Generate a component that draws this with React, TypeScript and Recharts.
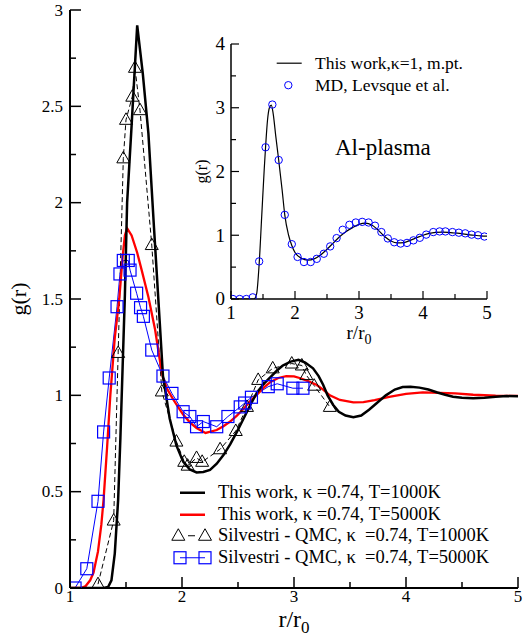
import React from 'react';
import { ComposedChart, Line, XAxis, YAxis, Legend, Label } from 'recharts';

if (typeof document !== 'undefined') {
  document.body.style.margin = '0';
}

const FONT = '"Liberation Serif", "Times New Roman", Times, serif';

// ---------- main plot data ----------
// This work, kappa = 0.74, T = 1000K (black)
const work1000R = [1.0, 1.30, 1.34, 1.37, 1.40, 1.43, 1.45, 1.47, 1.49, 1.51, 1.53, 1.55, 1.60, 1.65, 1.70, 1.75, 1.80, 1.83, 1.89, 1.95, 2.01, 2.07, 2.13, 2.19, 2.25, 2.31, 2.37, 2.43, 2.49, 2.55, 2.61, 2.67, 2.73, 2.79, 2.85, 2.90, 2.97, 3.04, 3.10, 3.17, 3.22, 3.26, 3.30, 3.35, 3.40, 3.46, 3.53, 3.60, 3.67, 3.74, 3.82, 3.90, 3.97, 4.04, 4.12, 4.20, 4.28, 4.35, 4.42, 4.50, 4.60, 4.70, 4.80, 4.90, 5.00];
const work1000G = [0, 0, 0.005, 0.04, 0.18, 0.46, 0.78, 1.15, 1.52, 2.0, 2.2, 2.4, 2.92, 2.67, 2.36, 1.87, 1.39, 1.10, 0.88, 0.74, 0.656, 0.615, 0.60, 0.602, 0.613, 0.645, 0.69, 0.745, 0.81, 0.88, 0.95, 1.015, 1.06, 1.095, 1.13, 1.155, 1.175, 1.184, 1.17, 1.14, 1.10, 1.055, 1.0, 0.95, 0.915, 0.895, 0.886, 0.895, 0.925, 0.96, 1.0, 1.03, 1.043, 1.045, 1.04, 1.03, 1.015, 1.003, 0.993, 0.988, 0.985, 0.988, 0.993, 0.996, 0.995];

// This work, kappa = 0.74, T = 5000K (red)
const work5000R = [1.0, 1.10, 1.14, 1.18, 1.21, 1.25, 1.28, 1.30, 1.33, 1.36, 1.40, 1.44, 1.47, 1.49, 1.51, 1.55, 1.60, 1.64, 1.70, 1.76, 1.80, 1.83, 1.87, 1.92, 1.97, 2.01, 2.07, 2.13, 2.21, 2.31, 2.37, 2.43, 2.49, 2.55, 2.61, 2.68, 2.73, 2.79, 2.86, 2.93, 3.00, 3.05, 3.12, 3.20, 3.26, 3.32, 3.41, 3.53, 3.62, 3.72, 3.85, 4.00, 4.15, 4.30, 4.44, 4.60, 4.80, 5.00];
const work5000G = [0, 0, 0.01, 0.04, 0.08, 0.19, 0.33, 0.46, 0.72, 1.0, 1.3, 1.5, 1.72, 1.83, 1.867, 1.83, 1.74, 1.65, 1.51, 1.34, 1.19, 1.09, 1.03, 0.98, 0.935, 0.90, 0.86, 0.83, 0.805, 0.82, 0.84, 0.864, 0.895, 0.93, 0.97, 1.01, 1.04, 1.07, 1.09, 1.10, 1.098, 1.09, 1.075, 1.055, 1.03, 1.0, 0.976, 0.963, 0.965, 0.975, 0.992, 1.008, 1.015, 1.013, 1.01, 1.003, 0.998, 0.997];

// Silvestri - QMC, kappa = 0.74, T = 1000K (triangles)
const qmc1000R = [1.25, 1.39, 1.43, 1.476, 1.50, 1.556, 1.58, 1.625, 1.73, 1.82, 1.95, 2.02, 2.05, 2.13, 2.18, 2.34, 2.48, 2.58, 2.68, 2.81, 2.98, 3.07, 3.11, 3.18, 3.32];
const qmc1000G = [0.02, 0.35, 1.22, 2.23, 2.43, 2.55, 2.70, 2.48, 1.78, 1.02, 0.76, 0.655, 0.635, 0.675, 0.655, 0.72, 0.815, 0.94, 1.08, 1.14, 1.165, 1.155, 1.105, 1.05, 0.94];

// Silvestri - QMC, kappa = 0.74, T = 5000K (squares)
const qmc5000R = [1.045, 1.15, 1.25, 1.30, 1.35, 1.42, 1.446, 1.476, 1.52, 1.536, 1.595, 1.63, 1.655, 1.73, 1.83, 1.91, 2.01, 2.07, 2.13, 2.19, 2.31, 2.41, 2.52, 2.56, 2.62, 2.77, 2.85, 2.99, 3.08];
const qmc5000G = [0.0, 0.10, 0.45, 0.81, 1.09, 1.46, 1.63, 1.70, 1.70, 1.65, 1.53, 1.455, 1.41, 1.235, 1.10, 1.01, 0.915, 0.89, 0.837, 0.864, 0.837, 0.89, 0.94, 0.96, 0.99, 1.045, 1.06, 1.037, 1.037];

// ---------- inset data ----------
const insetLineR = [1.0, 1.36, 1.40, 1.44, 1.48, 1.52, 1.54, 1.57, 1.60, 1.63, 1.66, 1.70, 1.745, 1.80, 1.84, 1.90, 1.95, 2.0, 2.1, 2.2, 2.3, 2.4, 2.5, 2.6, 2.7, 2.8, 2.9, 3.0, 3.1, 3.2, 3.3, 3.4, 3.5, 3.6, 3.7, 3.8, 3.9, 4.0, 4.1, 4.2, 4.3, 4.4, 4.5, 4.6, 4.7, 4.8, 4.9, 5.0];
const insetLineG = [0, 0, 0.08, 0.55, 1.3, 2.05, 2.38, 2.8, 3.0, 3.04, 2.9, 2.55, 2.18, 1.7, 1.32, 1.0, 0.84, 0.73, 0.64, 0.61, 0.63, 0.69, 0.78, 0.88, 0.98, 1.06, 1.12, 1.17, 1.19, 1.16, 1.08, 0.98, 0.91, 0.88, 0.885, 0.92, 0.96, 1.0, 1.03, 1.045, 1.05, 1.045, 1.035, 1.025, 1.01, 1.0, 0.99, 0.985];

const mdR = [1.03, 1.135, 1.24, 1.34, 1.44, 1.54, 1.646, 1.745, 1.84, 1.95, 2.04, 2.14, 2.245, 2.34, 2.45, 2.55, 2.65, 2.745, 2.85, 2.95, 3.05, 3.15, 3.25, 3.35, 3.45, 3.55, 3.65, 3.75, 3.85, 3.95, 4.05, 4.16, 4.26, 4.35, 4.46, 4.56, 4.66, 4.76, 4.86, 4.96];
const mdG = [0, 0, 0, 0.026, 0.59, 2.38, 3.05, 2.18, 1.32, 0.86, 0.66, 0.58, 0.58, 0.63, 0.71, 0.825, 0.955, 1.086, 1.164, 1.20, 1.21, 1.20, 1.15, 1.05, 0.95, 0.89, 0.87, 0.88, 0.92, 0.96, 1.01, 1.05, 1.06, 1.06, 1.05, 1.04, 1.03, 1.01, 1.0, 0.98];

// ---------- ticks / labels ----------
const mainXTicks = [1, 1.5, 2, 2.5, 3, 3.5, 4, 4.5, 5];
const mainYTicks = [0, 0.25, 0.5, 0.75, 1, 1.25, 1.5, 1.75, 2, 2.25, 2.5, 2.75, 3];
const insetXTicks = [1, 1.5, 2, 2.5, 3, 3.5, 4, 4.5, 5];
const insetYTicks = [0, 0.5, 1, 1.5, 2, 2.5, 3, 3.5, 4];

const legendMain = [
  'This work, \u03BA =0.74, T=1000K',
  'This work, \u03BA =0.74, T=5000K',
  'Silvestri - QMC, \u03BA  =0.74, T=1000K',
  'Silvestri - QMC, \u03BA  =0.74, T=5000K',
];
const legendInset = ['This work,\u03BA=1, m.pt.', 'MD, Levsque et al.'];

const zip = (r: number[], g: number[]) => r.map((v, i) => ({ r: v, g: g[i] }));
const black = zip(work1000R, work1000G);
const red = zip(work5000R, work5000G);
const tri = zip(qmc1000R, qmc1000G);
const sq = zip(qmc5000R, qmc5000G);
const insetLine = zip(insetLineR, insetLineG);
const md = zip(mdR, mdG);

// ---------- tick renderers ----------
const isMajorX = (v: number) => Math.abs(v - Math.round(v)) < 1e-9;
const isMajorY = (v: number) => Math.abs(v * 2 - Math.round(v * 2)) < 1e-9;
const isInt = (v: number) => Math.abs(v - Math.round(v)) < 1e-9;

const makeTick = (side: 'bottom' | 'top' | 'left' | 'right', majorFn: (v: number) => boolean, majLen: number, minLen: number, showLabel: boolean, fontSize: number, sw: number, labelOffset: number) =>
  (props: any) => {
    const { x, y, payload } = props;
    const v = payload.value;
    const major = majorFn(v);
    const len = major ? majLen : minLen;
    let line;
    if (side === 'bottom') line = <line x1={x} x2={x} y1={y} y2={y - len} stroke="#000" strokeWidth={sw} />;
    else if (side === 'top') line = <line x1={x} x2={x} y1={y} y2={y + len} stroke="#000" strokeWidth={sw} />;
    else if (side === 'left') line = <line x1={x} x2={x + len} y1={y} y2={y} stroke="#000" strokeWidth={sw} />;
    else line = <line x1={x} x2={x - len} y1={y} y2={y} stroke="#000" strokeWidth={sw} />;
    let label = null;
    if (showLabel && major) {
      if (side === 'bottom') label = <text x={x} y={y + labelOffset} textAnchor="middle" fontFamily={FONT} fontSize={fontSize} fill="#000">{String(v)}</text>;
      if (side === 'left') label = <text x={x - labelOffset} y={y + fontSize * 0.33} textAnchor="end" fontFamily={FONT} fontSize={fontSize} fill="#000">{String(v)}</text>;
    }
    return <g>{line}{label}</g>;
  };

const MainBottomTick = makeTick('bottom', isMajorX, 11, 6, true, 17, 1.5, 14);
const MainTopTick = makeTick('top', isMajorX, 11, 6, false, 17, 1.5, 0);
const MainLeftTick = makeTick('left', isMajorY, 11, 6, true, 17, 1.5, 7);
const MainRightTick = makeTick('right', isMajorY, 11, 6, false, 17, 1.5, 0);

const InsetBottomTick = makeTick('bottom', isInt, 8, 5, true, 19, 1.2, 20);
const InsetTopTick = makeTick('top', isInt, 8, 5, false, 19, 1.2, 0);
const InsetLeftTick = makeTick('left', isInt, 8, 5, true, 19, 1.2, 6);
const InsetRightTick = makeTick('right', isInt, 8, 5, false, 19, 1.2, 0);

// ---------- marker shapes ----------
const TriangleDot = (props: any) => {
  const { cx, cy } = props;
  if (cx == null || cy == null) return <g />;
  return <polygon points={`${cx},${cy - 7} ${cx - 6.5},${cy + 4.5} ${cx + 6.5},${cy + 4.5}`} fill="none" stroke="#000" strokeWidth={1} />;
};
const SquareDot = (props: any) => {
  const { cx, cy } = props;
  if (cx == null || cy == null) return <g />;
  return <rect x={cx - 6} y={cy - 6} width={12} height={12} fill="none" stroke="#0000ff" strokeWidth={1.2} />;
};
const CircleDot = (props: any) => {
  const { cx, cy } = props;
  if (cx == null || cy == null) return <g />;
  return <circle cx={cx} cy={cy} r={3.7} fill="none" stroke="#0000ff" strokeWidth={1} />;
};

// ---------- legends ----------
const MainLegend = () => {
  const rowH = 21.5;
  const icons = [
    <line x1={9} x2={34} y1={rowH / 2} y2={rowH / 2} stroke="#000" strokeWidth={2.5} />,
    <line x1={9} x2={34} y1={rowH / 2} y2={rowH / 2} stroke="#ff0000" strokeWidth={2.5} />,
    <g>
      <line x1={17} x2={24} y1={rowH / 2} y2={rowH / 2} stroke="#000" strokeWidth={1} />
      <polygon points={`7.3,${rowH / 2 - 7} 0.8,${rowH / 2 + 4.5} 13.8,${rowH / 2 + 4.5}`} fill="none" stroke="#000" />
      <polygon points={`34,${rowH / 2 - 7} 27.5,${rowH / 2 + 4.5} 40.5,${rowH / 2 + 4.5}`} fill="none" stroke="#000" />
    </g>,
    <g>
      <line x1={9} x2={34} y1={rowH / 2} y2={rowH / 2} stroke="#0000ff" strokeWidth={1} />
      <rect x={3} y={rowH / 2 - 6} width={12} height={12} fill="none" stroke="#0000ff" strokeWidth={1.2} />
      <rect x={28} y={rowH / 2 - 6} width={12} height={12} fill="none" stroke="#0000ff" strokeWidth={1.2} />
    </g>,
  ];
  return (
    <div style={{ fontFamily: FONT, fontSize: 18.5, color: '#000' }}>
      {legendMain.map((t, i) => (
        <div key={i} style={{ display: 'flex', alignItems: 'center', height: rowH, whiteSpace: 'pre' }}>
          <svg width={47} height={rowH} style={{ display: 'block', overflow: 'visible', flex: 'none' }}>{icons[i]}</svg>
          <span>{t}</span>
        </div>
      ))}
    </div>
  );
};

const InsetLegend = () => {
  const rowH = 22.4;
  const icons = [
    <line x1={6.7} x2={31.7} y1={rowH / 2} y2={rowH / 2} stroke="#000" strokeWidth={1.2} />,
    <circle cx={18.3} cy={rowH / 2} r={3.7} fill="none" stroke="#0000ff" strokeWidth={1} />,
  ];
  return (
    <div style={{ fontFamily: FONT, fontSize: 17.5, color: '#000' }}>
      {legendInset.map((t, i) => (
        <div key={i} style={{ display: 'flex', alignItems: 'center', height: rowH, whiteSpace: 'pre' }}>
          <svg width={45} height={rowH} style={{ display: 'block', overflow: 'visible', flex: 'none' }}>{icons[i]}</svg>
          <span>{t}</span>
        </div>
      ))}
    </div>
  );
};

export default function App() {
  return (
    <div style={{ position: 'relative', width: 523, height: 639, background: '#fff' }}>
      <ComposedChart width={523} height={639} margin={{ top: 10, right: 5, bottom: 0, left: 0 }} style={{ fontFamily: FONT }}>
        <XAxis xAxisId="b" dataKey="r" type="number" domain={[1, 5]} ticks={mainXTicks} interval={0} orientation="bottom" height={51}
          tickSize={0} tickMargin={0} tickLine={false} tick={MainBottomTick} axisLine={{ stroke: '#000', strokeWidth: 2 }} allowDataOverflow>
          <Label content={(p: any) => {
            const vb = p.viewBox || { x: 70, y: 588, width: 448 };
            return (
              <text x={vb.x + vb.width / 2} y={vb.y + 39} textAnchor="middle" fontFamily={FONT} fontSize={24} fill="#000">
                r/r<tspan dy={6} fontSize={17}>0</tspan>
              </text>
            );
          }} />
        </XAxis>
        <XAxis xAxisId="t" dataKey="r" type="number" domain={[1, 5]} ticks={mainXTicks} interval={0} orientation="top" height={0}
          tickSize={0} tickMargin={0} tickLine={false} tick={MainTopTick} axisLine={{ stroke: '#000', strokeWidth: 2 }} allowDataOverflow />
        <YAxis yAxisId="l" type="number" domain={[0, 3]} ticks={mainYTicks} interval={0} orientation="left" width={70}
          tickSize={0} tickMargin={0} tickLine={false} tick={MainLeftTick} axisLine={{ stroke: '#000', strokeWidth: 2 }} allowDataOverflow>
          <Label content={(p: any) => {
            const vb = p.viewBox || { x: 0, y: 10, height: 578 };
            const cy = vb.y + vb.height / 2;
            return (
              <text x={26} y={cy} transform={`rotate(-90, 26, ${cy})`} textAnchor="middle" fontFamily={FONT} fontSize={22} fill="#000">g(r)</text>
            );
          }} />
        </YAxis>
        <YAxis yAxisId="rt" type="number" domain={[0, 3]} ticks={mainYTicks} interval={0} orientation="right" width={0}
          tickSize={0} tickMargin={0} tickLine={false} tick={MainRightTick} axisLine={{ stroke: '#000', strokeWidth: 2 }} allowDataOverflow />

        <Line xAxisId="b" yAxisId="l" data={tri} dataKey="g" type="linear" stroke="#000" strokeWidth={1} strokeDasharray="5 3"
          dot={TriangleDot} activeDot={false} isAnimationActive={false} legendType="none" />
        <Line xAxisId="b" yAxisId="l" data={sq} dataKey="g" type="linear" stroke="#0000ff" strokeWidth={1}
          dot={SquareDot} activeDot={false} isAnimationActive={false} legendType="none" />
        <Line xAxisId="b" yAxisId="l" data={red} dataKey="g" type="linear" stroke="#ff0000" strokeWidth={2.3}
          dot={false} activeDot={false} isAnimationActive={false} legendType="none" />
        <Line xAxisId="b" yAxisId="l" data={black} dataKey="g" type="linear" stroke="#000" strokeWidth={2.5}
          dot={false} activeDot={false} isAnimationActive={false} legendType="none" />

        <Legend layout="vertical" align="center" verticalAlign="middle" content={() => <MainLegend />}
          wrapperStyle={{ position: 'absolute', left: 171, top: 482, width: 345, height: 90, margin: 0 }} />
      </ComposedChart>

      <div style={{ position: 'absolute', left: 180, top: 34 }}>
        <ComposedChart width={325} height={325} margin={{ top: 10, right: 18, bottom: 0, left: 0 }} style={{ fontFamily: FONT }}>
          <XAxis xAxisId="b" dataKey="r" type="number" domain={[1, 5]} ticks={insetXTicks} interval={0} orientation="bottom" height={60}
            tickSize={0} tickMargin={0} tickLine={false} tick={InsetBottomTick} axisLine={{ stroke: '#000', strokeWidth: 1.5 }} allowDataOverflow>
            <Label content={(p: any) => {
              const vb = p.viewBox || { x: 51, y: 265, width: 256 };
              return (
                <text x={vb.x + vb.width / 2} y={vb.y + 40} textAnchor="middle" fontFamily={FONT} fontSize={19} fill="#000">
                  r/r<tspan dy={5} fontSize={14}>0</tspan>
                </text>
              );
            }} />
          </XAxis>
          <XAxis xAxisId="t" dataKey="r" type="number" domain={[1, 5]} ticks={insetXTicks} interval={0} orientation="top" height={0}
            tickSize={0} tickMargin={0} tickLine={false} tick={InsetTopTick} axisLine={{ stroke: '#000', strokeWidth: 1.5 }} allowDataOverflow />
          <YAxis yAxisId="l" type="number" domain={[0, 4]} ticks={insetYTicks} interval={0} orientation="left" width={51}
            tickSize={0} tickMargin={0} tickLine={false} tick={InsetLeftTick} axisLine={{ stroke: '#000', strokeWidth: 1.5 }} allowDataOverflow>
            <Label content={(p: any) => {
              const vb = p.viewBox || { x: 0, y: 10, height: 255 };
              const cy = vb.y + vb.height / 2;
              return (
                <text x={27} y={cy} transform={`rotate(-90, 27, ${cy})`} textAnchor="middle" fontFamily={FONT} fontSize={16} fill="#000">g(r)</text>
              );
            }} />
          </YAxis>
          <YAxis yAxisId="rt" type="number" domain={[0, 4]} ticks={insetYTicks} interval={0} orientation="right" width={0}
            tickSize={0} tickMargin={0} tickLine={false} tick={InsetRightTick} axisLine={{ stroke: '#000', strokeWidth: 1.5 }} allowDataOverflow />

          <Line xAxisId="b" yAxisId="l" data={insetLine} dataKey="g" type="monotone" stroke="#000" strokeWidth={1.2}
            dot={false} activeDot={false} isAnimationActive={false} legendType="none" />
          <Line xAxisId="b" yAxisId="l" data={md} dataKey="g" type="linear" stroke="none" strokeWidth={0}
            dot={CircleDot} activeDot={false} isAnimationActive={false} legendType="none" />

          <Legend layout="vertical" align="center" verticalAlign="middle" content={() => <InsetLegend />}
            wrapperStyle={{ position: 'absolute', left: 90, top: 18, width: 215, height: 46, margin: 0 }} />
        </ComposedChart>
        <div style={{ position: 'absolute', left: 155, top: 100, fontFamily: FONT, fontSize: 23, color: '#000', whiteSpace: 'nowrap', lineHeight: '28px' }}>
          Al-plasma
        </div>
      </div>
    </div>
  );
}
